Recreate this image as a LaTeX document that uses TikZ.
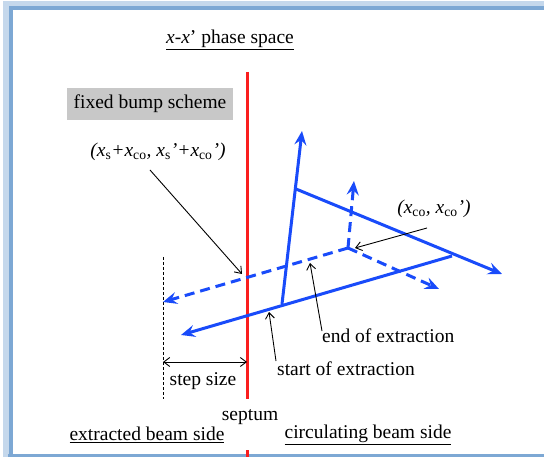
\documentclass[tikz,border=0pt]{standalone}
\usepackage{fontspec}
\setmainfont{Liberation Serif}
\usetikzlibrary{arrows.meta}
\definecolor{bblue}{RGB}{25,75,250}
\definecolor{sred}{RGB}{250,30,30}
\definecolor{frameblue}{RGB}{125,168,212}
\definecolor{boxgray}{RGB}{200,200,200}
\begin{document}
\begin{tikzpicture}[x=1pt,y=-1pt, font=\fontsize{19.5}{22}\selectfont,
  beam/.style={bblue, line width=3pt},
  beamarrow/.style={beam, -{Stealth[length=14pt,width=12pt,inset=5pt]}},
  dashbeam/.style={beamarrow, dash pattern=on 10pt off 6pt},
  pointer/.style={black, line width=0.9pt, -{Straight Barb[length=6pt,width=9pt]}},
  twoway/.style={black, line width=0.9pt, {Straight Barb[length=6pt,width=9pt]}-{Straight Barb[length=6pt,width=9pt]}},
  lbl/.style={inner sep=1pt}]
\useasboundingbox (0,0) rectangle (544,457);
\fill[white] (0,0) rectangle (544,457);
% window frame
\draw[frameblue!45, line width=9pt] (7,470) -- (7,5.5) -- (560,5.5);
\draw[frameblue, line width=4pt] (10.5,470) -- (10.5,8) -- (560,8);
\draw[frameblue, line width=4pt] (8,456) -- (560,456);
% septum
\coordinate (sepTop) at (247,72);
\coordinate (sepMid) at (247,399);
\coordinate (sepLow) at (247,450);
\coordinate (sepBot) at (247,458);
\draw[sred, line width=3pt] (sepTop) -- (sepMid);
\draw[sred, line width=3pt] (sepLow) -- (sepBot);
% extraction limit
\coordinate (limTop) at (163,257);
\coordinate (limBot) at (163,399);
\draw[black, line width=0.9pt, dash pattern=on 3pt off 2pt] (limTop) -- (limBot);
\coordinate (stepL) at (163,362);
\coordinate (stepR) at (247,362);
\draw[twoway] (stepL) -- (stepR);
% solid beam axes
\coordinate (A) at (282,304);
\coordinate (Atip) at (302,131);
\coordinate (B) at (296,189);
\coordinate (Btip) at (502,274);
\coordinate (C) at (452,256);
\coordinate (Ctip) at (181,335);
\draw[beamarrow] (A) -- (Atip);
\draw[beamarrow] (B) -- (Btip);
\draw[beamarrow] (C) -- (Ctip);
% dashed closed orbit axes
\coordinate (O) at (348,248);
\coordinate (Oup) at (354,181);
\coordinate (Odn) at (439,289);
\coordinate (Oleft) at (163,302);
\draw[dashbeam] (O) -- (Oup);
\draw[dashbeam] (O) -- (Odn);
\draw[dashbeam] (O) -- (Oleft);
% texts
\node[lbl] (title) at (230,40) {\underline{\textit{x-x}’ phase space}};
\node[fill=boxgray, minimum width=166pt, minimum height=32pt, inner sep=0pt] (scheme) at (150,104) {fixed bump scheme};
\node[lbl] (xs) at (158,152) {\itshape (x\textsubscript{\upshape s}+x\textsubscript{\upshape co}, x\textsubscript{\upshape s}’+x\textsubscript{\upshape co}’)};
\node[lbl] (xco) at (434,209) {\itshape (x\textsubscript{\upshape co}, x\textsubscript{\upshape co}’)};
\node[lbl, anchor=west] (endx) at (321,336) {end of extraction};
\node[lbl, anchor=west] (startx) at (276,369) {start of extraction};
\node[lbl] (step) at (203,381) {step size};
\node[lbl] (septum) at (250,417) {septum};
\node[lbl] (circ) at (368,435) {\underline{circulating beam side}};
\node[lbl] (extr) at (147,435) {\underline{extracted beam side}};
% pointers
\coordinate (p1s) at (150,170);
\coordinate (p1e) at (242,274);
\coordinate (p2s) at (427,228);
\coordinate (p2e) at (355,248);
\coordinate (p3s) at (322,331);
\coordinate (p3e) at (310,263);
\coordinate (p4s) at (276,361);
\coordinate (p4e) at (269,312);
\draw[pointer] (p1s) -- (p1e);
\draw[pointer] (p2s) -- (p2e);
\draw[pointer] (p3s) -- (p3e);
\draw[pointer] (p4s) -- (p4e);
\end{tikzpicture}
\end{document}
